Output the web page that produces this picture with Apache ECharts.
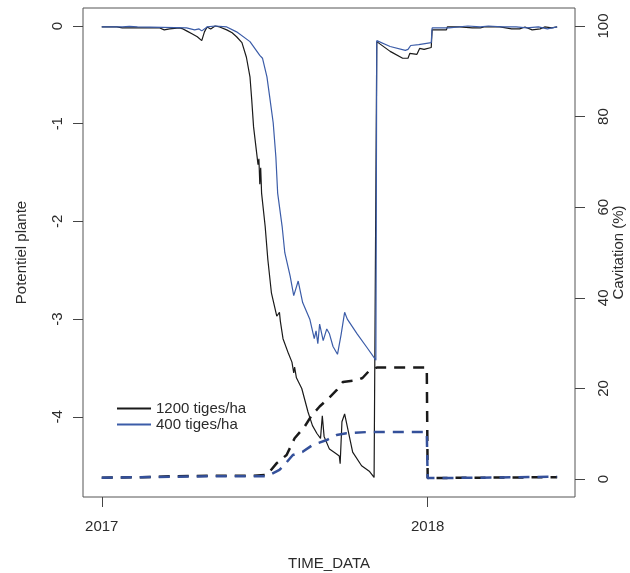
<!DOCTYPE html>
<html>
<head>
<meta charset="utf-8">
<script src="https://cdn.jsdelivr.net/npm/echarts@6.0.0/dist/echarts.min.js"></script>
<style>
  html, body { margin: 0; padding: 0; background: #fff; }
  #chart { width: 630px; height: 573px; }
</style>
</head>
<body>
<div id="chart"></div>
<script>
// potentiel plante, 1200 tiges/ha (noir)
const pot1200Dates = ['2017-01-01','2017-01-18','2017-01-20','2017-01-24','2017-02-10','2017-02-14','2017-03-07','2017-03-12','2017-03-18','2017-03-29','2017-04-02','2017-04-06','2017-04-12','2017-04-18','2017-04-23','2017-04-26','2017-04-29','2017-05-03','2017-05-08','2017-05-13','2017-05-21','2017-05-27','2017-06-01','2017-06-07','2017-06-12','2017-06-16','2017-06-18','2017-06-20','2017-06-24','2017-06-25','2017-06-26','2017-06-27','2017-06-28','2017-06-29','2017-07-03','2017-07-06','2017-07-10','2017-07-16','2017-07-19','2017-07-20','2017-07-23','2017-07-29','2017-08-02','2017-08-04','2017-08-05','2017-08-07','2017-08-13','2017-08-20','2017-08-25','2017-08-30','2017-09-03','2017-09-05','2017-09-07','2017-09-13','2017-09-21','2017-09-24','2017-09-25','2017-09-27','2017-09-30','2017-10-09','2017-10-19','2017-10-28','2017-11-02','2017-11-04','2017-11-05','2017-11-20','2017-12-04','2017-12-10','2017-12-12','2017-12-20','2017-12-23','2017-12-28','2018-01-05','2018-01-06','2018-01-22','2018-01-23','2018-02-06','2018-02-20','2018-03-01','2018-03-05','2018-03-23','2018-04-05','2018-04-14','2018-04-20','2018-04-28','2018-05-07','2018-05-12','2018-05-20','2018-05-26'];
const pot1200Values = [-0.01,-0.01,-0.03,-0.02,-0.02,-0.02,-0.02,-0.04,-0.03,-0.02,-0.03,-0.05,-0.08,-0.11,-0.15,-0.06,-0.01,-0.03,0.0,-0.01,-0.04,-0.07,-0.11,-0.17,-0.32,-0.52,-0.76,-1.03,-1.34,-1.42,-1.36,-1.62,-1.45,-1.71,-2.05,-2.39,-2.73,-2.97,-2.93,-3.02,-3.2,-3.35,-3.44,-3.55,-3.49,-3.6,-3.71,-3.95,-4.09,-4.17,-4.22,-3.99,-4.2,-4.33,-4.38,-4.4,-4.48,-4.05,-3.97,-4.36,-4.5,-4.56,-4.62,-4.62,-0.16,-0.26,-0.33,-0.33,-0.28,-0.29,-0.23,-0.24,-0.22,-0.04,-0.04,-0.01,-0.01,-0.02,-0.02,-0.01,-0.01,-0.03,-0.03,-0.01,-0.04,-0.03,-0.01,-0.02,-0.01];

// potentiel plante, 400 tiges/ha (bleu)
const pot400Dates = ['2017-01-01','2017-01-24','2017-01-26','2017-02-01','2017-02-10','2017-04-06','2017-04-15','2017-04-20','2017-04-23','2017-04-29','2017-05-08','2017-05-21','2017-06-01','2017-06-16','2017-06-27','2017-06-30','2017-07-05','2017-07-08','2017-07-12','2017-07-15','2017-07-17','2017-07-22','2017-07-25','2017-07-31','2017-08-04','2017-08-06','2017-08-09','2017-08-14','2017-08-22','2017-08-27','2017-08-29','2017-08-31','2017-09-02','2017-09-06','2017-09-10','2017-09-13','2017-09-17','2017-09-22','2017-09-26','2017-09-30','2017-10-03','2017-10-14','2017-10-25','2017-11-04','2017-11-05','2017-11-20','2017-12-07','2017-12-10','2017-12-13','2017-12-22','2017-12-24','2018-01-05','2018-01-06','2018-01-25','2018-01-26','2018-02-15','2018-03-01','2018-03-10','2018-03-25','2018-04-10','2018-04-22','2018-05-05','2018-05-15','2018-05-26'];
const pot400Values = [-0.01,-0.01,0.01,-0.005,-0.01,-0.02,-0.04,-0.03,-0.05,-0.01,0.0,-0.01,-0.06,-0.16,-0.3,-0.33,-0.52,-0.72,-0.99,-1.34,-1.71,-2.05,-2.32,-2.56,-2.76,-2.7,-2.61,-2.83,-3.0,-3.2,-3.12,-3.25,-3.05,-3.22,-3.1,-3.15,-3.28,-3.36,-3.16,-2.93,-3.0,-3.15,-3.29,-3.42,-0.15,-0.21,-0.25,-0.24,-0.2,-0.19,-0.17,-0.17,-0.02,-0.02,0.0,0.0,-0.01,0.0,-0.01,-0.01,-0.02,-0.01,-0.03,-0.01];

// cavitation (%), 1200 tiges/ha
const cav1200Dates = ['2017-01-01','2017-02-15','2017-03-20','2017-05-01','2017-06-20','2017-07-05','2017-07-16','2017-07-27','2017-08-05','2017-08-16','2017-08-24','2017-09-02','2017-09-13','2017-09-21','2017-09-28','2017-10-14','2017-10-20','2017-10-28','2017-11-05','2017-12-31','2018-01-01','2018-03-01','2018-05-26'];
const cav1200Values = [0.3,0.4,0.6,0.7,0.7,0.9,3.5,5.3,9,11.5,14,16,18,19.6,21.4,21.8,22.3,24,24.6,24.6,0.2,0.3,0.4];

// cavitation (%), 400 tiges/ha
const cav400Dates = ['2017-01-01','2017-03-20','2017-05-01','2017-07-03','2017-07-08','2017-07-19','2017-07-27','2017-08-03','2017-08-14','2017-08-25','2017-09-10','2017-09-21','2017-10-02','2017-10-28','2017-12-31','2018-01-01','2018-03-01','2018-05-26'];
const cav400Values = [0.3,0.5,0.6,0.6,0.9,2,3.7,5.3,6,7.5,8.6,9.7,10.1,10.4,10.4,0.2,0.3,0.5];

const yearTicks = ['2017-01-01', '2018-01-01'];
const potTicks = [-4, -3, -2, -1, 0];
const cavTicks = [0, 20, 40, 60, 80, 100];

function ts(s) {
  const p = s.split('-');
  return Date.UTC(+p[0], +p[1] - 1, +p[2]);
}
function pairs(dates, values) {
  return dates.map((d, i) => [ts(d), values[i]]);
}

const chart = echarts.init(document.getElementById('chart'));
const txt = '#2b2b2b';
const font = 'Liberation Sans, Arial, sans-serif';

chart.setOption({
  animation: false,
  backgroundColor: '#fff',
  textStyle: { fontFamily: font },
  grid: {
    left: 83, right: 55, top: 8, bottom: 76,
    outerBoundsMode: 'none',
    show: true, borderColor: '#555', borderWidth: 1, backgroundColor: 'transparent'
  },
  legend: {
    data: ['1200 tiges/ha', '400 tiges/ha'],
    orient: 'vertical',
    left: 117, top: 401,
    icon: 'rect',
    itemWidth: 34, itemHeight: 2, itemGap: 1, padding: 0,
    textStyle: { fontSize: 15, color: txt, fontFamily: font }
  },
  xAxis: {
    // dates en ms, axe numérique pour placer les ticks sur les années
    type: 'value',
    min: ts('2016-12-11'),
    max: ts('2018-06-15'),
    name: 'TIME_DATA',
    nameLocation: 'middle',
    nameGap: 59,
    nameMoveOverlap: false,
    nameTextStyle: { fontSize: 15, color: txt },
    axisLine: { show: false, onZero: false },
    splitLine: { show: false },
    axisTick: { show: true, length: 10, customValues: yearTicks.map(ts), lineStyle: { color: '#444' } },
    axisLabel: {
      customValues: yearTicks.map(ts),
      margin: 22, fontSize: 15, color: txt,
      formatter: v => String(new Date(v).getUTCFullYear())
    }
  },
  yAxis: [
    {
      type: 'value',
      position: 'left',
      min: -4.82, max: 0.184,
      name: 'Potentiel plante',
      nameLocation: 'middle',
      nameRotate: 90,
      nameGap: 54,
      nameMoveOverlap: false,
      nameTextStyle: { fontSize: 15, color: txt },
      axisLine: { show: false, onZero: false },
      splitLine: { show: false },
      axisTick: { show: true, length: 10, customValues: potTicks, lineStyle: { color: '#444' } },
      axisLabel: { customValues: potTicks, rotate: 90, margin: 18, fontSize: 15, color: txt }
    },
    {
      type: 'value',
      position: 'right',
      min: -3.97, max: 103.97,
      name: 'Cavitation (%)',
      nameLocation: 'middle',
      nameRotate: 90,
      nameGap: 36,
      nameMoveOverlap: false,
      nameTextStyle: { fontSize: 15, color: txt },
      axisLine: { show: false, onZero: false },
      splitLine: { show: false },
      axisTick: { show: true, length: 10, customValues: cavTicks, lineStyle: { color: '#444' } },
      axisLabel: { customValues: cavTicks, rotate: 90, margin: 21, fontSize: 15, color: txt }
    }
  ],
  series: [
    {
      name: '1200 tiges/ha', type: 'line', yAxisIndex: 0, symbol: 'none',
      data: pairs(pot1200Dates, pot1200Values),
      itemStyle: { color: '#1a1a1a' },
      lineStyle: { color: '#1a1a1a', width: 1.2 }
    },
    {
      name: '400 tiges/ha', type: 'line', yAxisIndex: 0, symbol: 'none',
      data: pairs(pot400Dates, pot400Values),
      itemStyle: { color: '#3b5ca8' },
      lineStyle: { color: '#3b5ca8', width: 1.2 }
    },
    {
      name: 'cav 1200', type: 'line', yAxisIndex: 1, symbol: 'none',
      data: pairs(cav1200Dates, cav1200Values),
      lineStyle: { color: '#1a1a1a', width: 2.5, type: [11, 8] }
    },
    {
      name: 'cav 400', type: 'line', yAxisIndex: 1, symbol: 'none',
      data: pairs(cav400Dates, cav400Values),
      lineStyle: { color: '#34509a', width: 2.5, type: [11, 8] }
    }
  ]
});
</script>
</body>
</html>
